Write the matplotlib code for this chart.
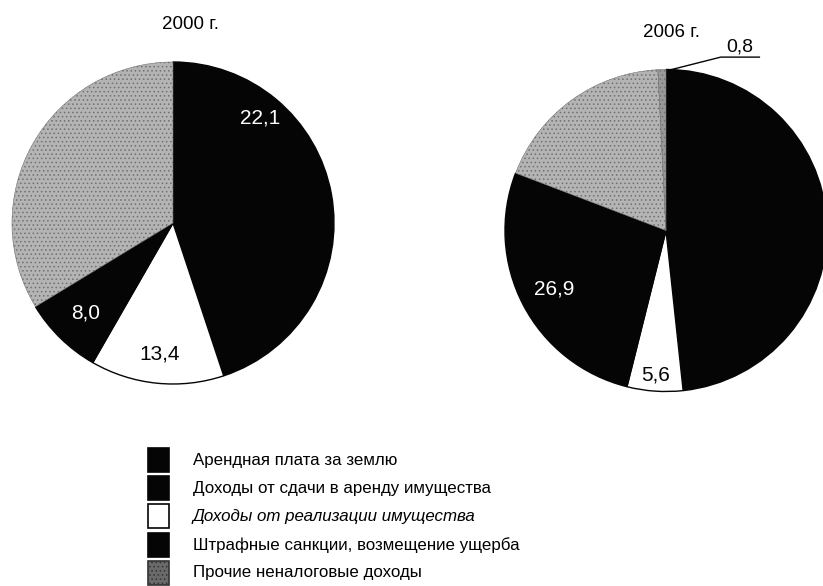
import numpy as np
import matplotlib
matplotlib.use("Agg")
import matplotlib.pyplot as plt
from matplotlib.patches import Rectangle

plt.rcParams['font.family'] = ['Liberation Sans', 'DejaVu Sans']
plt.rcParams['hatch.linewidth'] = 0.6

# доли неналоговых доходов, %, по ходу часовой стрелки от 12 часов
years = ['2000 г.', '2006 г.']
share_2000 = [22.1, 22.8, 13.4, 8.0, 33.7]
share_2006 = [48.3, 5.6, 26.9, 18.4, 0.8]
shown_2000 = [True, False, True, True, False]
shown_2006 = [False, True, True, False, True]

legend_names = [
    'Арендная плата за землю',
    'Доходы от сдачи в аренду имущества',
    'Доходы от реализации имущества',
    'Штрафные санкции, возмещение ущерба',
    'Прочие неналоговые доходы',
]

BLACK = '#050505'
GRAY = '#b4b4b4'
colors_2000 = [BLACK, BLACK, 'white', BLACK, GRAY]
colors_2006 = [BLACK, 'white', BLACK, GRAY, '#9a9a9a']
label_r_2000 = [0.85, 0.8, 0.82, 0.78, 0.8]
label_r_2006 = [0.8, 0.9, 0.78, 0.8, 0.8]

legend_face = [BLACK, BLACK, 'white', BLACK, '#6a6a6a']
legend_italic = [False, False, True, False, False]


def fmt(v):
    return f"{v:.1f}".replace('.', ',')


def draw_pie(ax, values, colors, shown, label_r, title, title_xy):
    wedges, _ = ax.pie(values, colors=colors, startangle=90, counterclock=False,
                       wedgeprops=dict(edgecolor=BLACK, linewidth=1.0))
    for w, c in zip(wedges, colors):
        if c not in (BLACK, 'white'):
            # точечная штриховка, как у серых секторов
            w.set_hatch('....')
            w.set_edgecolor('#707070')
            w.set_linewidth(0.4)
    ax.set_xlim(-1, 1)
    ax.set_ylim(-1, 1)
    ax.set_aspect('equal')
    ax.axis('off')

    for w, v, c, s, r in zip(wedges, values, colors, shown, label_r):
        if not s:
            continue
        mid = np.deg2rad((w.theta1 + w.theta2) / 2)
        x, y = r * np.cos(mid), r * np.sin(mid)
        if v < 2:
            # узкий сектор подписываем выноской
            x0, y0 = np.cos(mid) + 0.06, np.sin(mid)
            ax.plot([x0, 0.34, 0.58], [y0, 1.077, 1.077], color=BLACK, lw=1.0,
                    clip_on=False)
            ax.text(0.46, 1.088, fmt(v), ha='center', va='bottom', fontsize=14,
                    color=BLACK, clip_on=False)
            continue
        txt_color = 'white' if c == BLACK else BLACK
        ax.text(x, y, fmt(v), ha='center', va='center', fontsize=15,
                color=txt_color)

    ax.text(title_xy[0], title_xy[1], title, ha='center', va='center',
            fontsize=13.5, clip_on=False)


fig = plt.figure(figsize=(8.23, 5.86), dpi=100)
W, H = 823, 586
R = 161

ax1 = fig.add_axes([(173 - R) / W, (H - 223 - R) / H, 2 * R / W, 2 * R / H])
ax2 = fig.add_axes([(666 - R) / W, (H - 230.5 - R) / H, 2 * R / W, 2 * R / H])

draw_pie(ax1, share_2000, colors_2000, shown_2000, label_r_2000, years[0], (0.106, 1.235))
draw_pie(ax2, share_2006, colors_2006, shown_2006, label_r_2006, years[1], (0.037, 1.232))

# легенда
for i, (name, face) in enumerate(zip(legend_names, legend_face)):
    yc = 460 + i * 28.2
    rect = Rectangle((148 / W, (H - yc - 12) / H), 21 / W, 24 / H,
                     transform=fig.transFigure, facecolor=face,
                     edgecolor=BLACK, linewidth=1.2)
    if i == len(legend_names) - 1:
        rect.set_hatch('....')
        rect.set_edgecolor('#333333')
    fig.add_artist(rect)
    fig.text(193 / W, (H - yc) / H, name, ha='left', va='center', fontsize=12.2,
             style='italic' if legend_italic[i] else 'normal')

fig.savefig('out.png', dpi=100)
